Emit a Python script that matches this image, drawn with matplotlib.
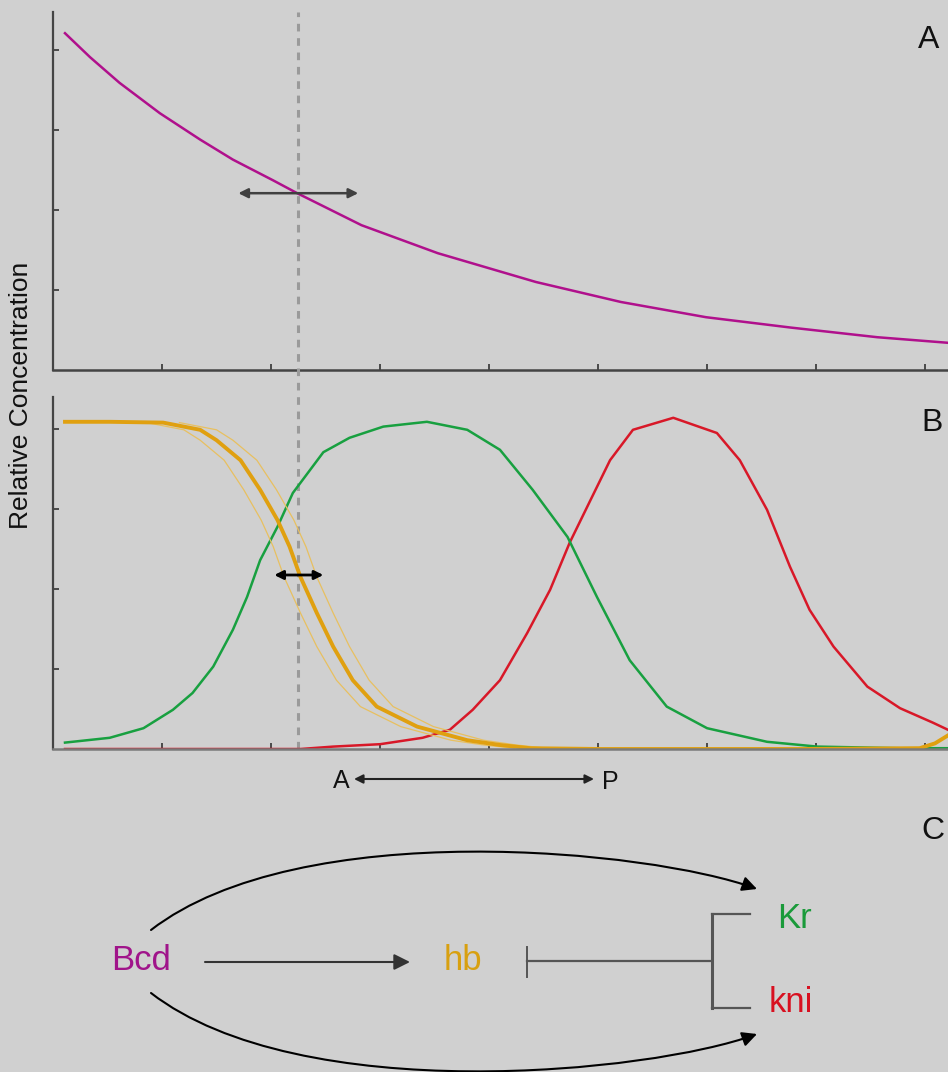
import matplotlib.pyplot as plt
from matplotlib.patches import FancyArrowPatch
from matplotlib.path import Path

plt.rcParams["font.family"] = ["Liberation Sans", "DejaVu Sans"]

BG = "#d0d0d0"
MAGENTA = "#b0108c"
ORANGE = "#e0a010"
ORANGE_THIN = "#e8c060"
GREEN = "#18a040"
RED = "#d81828"

# Panel A: Bcd gradient along the A-P axis
bcd_x = [0.11, 0.34, 0.61, 0.98, 1.35, 1.65, 2.02, 2.24, 2.83, 3.53, 4.43,
         5.21, 5.99, 6.77, 7.56, 8.21]
bcd_y = [4.21, 3.91, 3.59, 3.21, 2.88, 2.63, 2.37, 2.21, 1.81, 1.46, 1.10,
         0.85, 0.66, 0.53, 0.41, 0.34]

# Panel B: target gene profiles
hb_x = [0.11, 0.52, 1.01, 1.35, 1.50, 1.72, 1.90, 2.06, 2.17, 2.27, 2.42,
        2.57, 2.75, 2.97, 3.34, 3.80, 4.10, 4.38, 5.02, 5.94, 6.85, 7.95,
        8.09, 8.21]
hb_y = [4.09, 4.09, 4.08, 3.99, 3.86, 3.61, 3.24, 2.86, 2.53, 2.15, 1.70,
        1.28, 0.86, 0.53, 0.28, 0.11, 0.05, 0.01, 0.0, 0.0, 0.0, 0.01,
        0.07, 0.17]

# spread of the hb boundary (thin lines either side)
hb_band_y = [4.08, 3.99, 3.86, 3.61, 3.24, 2.86, 2.53, 2.15, 1.70, 1.28,
             0.86, 0.53, 0.28, 0.11, 0.05, 0.01]
hb_lo_x = [0.86, 1.20, 1.35, 1.57, 1.75, 1.91, 2.02, 2.12, 2.27, 2.42, 2.60,
           2.82, 3.19, 3.65, 3.95, 4.23]
hb_hi_x = [1.16, 1.50, 1.65, 1.87, 2.05, 2.21, 2.32, 2.42, 2.57, 2.72, 2.90,
           3.12, 3.49, 3.95, 4.25, 4.53]

kr_x = [0.11, 0.52, 0.83, 1.10, 1.28, 1.47, 1.65, 1.78, 1.90, 2.06, 2.20,
        2.48, 2.72, 3.03, 3.43, 3.80, 4.10, 4.40, 4.72, 4.99, 5.29, 5.63,
        6.00, 6.55, 7.01, 7.77, 8.21]
kr_y = [0.08, 0.14, 0.26, 0.49, 0.70, 1.03, 1.49, 1.90, 2.36, 2.78, 3.20,
        3.71, 3.89, 4.03, 4.09, 3.99, 3.74, 3.24, 2.65, 1.90, 1.11, 0.53,
        0.26, 0.09, 0.03, 0.01, 0.01]

kni_x = [0.11, 2.27, 2.57, 3.00, 3.39, 3.64, 3.85, 4.10, 4.35, 4.56, 4.74,
         4.93, 5.11, 5.32, 5.69, 6.09, 6.30, 6.55, 6.76, 6.94, 7.16, 7.47,
         7.77, 8.07, 8.21]
kni_y = [0.0, 0.0, 0.03, 0.06, 0.14, 0.24, 0.49, 0.86, 1.45, 1.99, 2.58,
         3.11, 3.61, 3.99, 4.14, 3.95, 3.61, 2.99, 2.28, 1.74, 1.28, 0.78,
         0.51, 0.33, 0.24]

x_ticks = [1, 2, 3, 4, 5, 6, 7, 8]
y_ticks = [1, 2, 3, 4]
threshold_x = 2.25

W, H = 948, 1072
fig = plt.figure(figsize=(W / 100, H / 100), dpi=100, facecolor=BG)


def px_axes(left, top, right, bottom):
    return fig.add_axes([left / W, 1 - bottom / H, (right - left) / W,
                         (bottom - top) / H])


def style_axes(ax, ymax, bottom_colour):
    ax.set_facecolor(BG)
    ax.set_xlim(0, 8.21)
    ax.set_ylim(0, ymax)
    ax.set_xticks(x_ticks)
    ax.set_yticks(y_ticks)
    for side in ["top", "right"]:
        ax.spines[side].set_visible(False)
    ax.spines["left"].set_color("#444444")
    ax.spines["left"].set_linewidth(1.6)
    ax.spines["bottom"].set_color(bottom_colour)
    ax.spines["bottom"].set_linewidth(1.8)
    ax.tick_params(direction="in", length=4, width=1.2, colors="#333333",
                   labelbottom=False, labelleft=False)


ax_a = px_axes(53, 12, 948, 370)
style_axes(ax_a, 4.475, "#444444")
ax_a.plot(bcd_x, bcd_y, color=MAGENTA, lw=1.8, solid_joinstyle="round")
ax_a.annotate("", xy=(1.70, 2.21), xytext=(2.80, 2.21),
              arrowprops=dict(arrowstyle="<|-|>", color="#404040", lw=1.8,
                              mutation_scale=14, shrinkA=0, shrinkB=0))

ax_b = px_axes(53, 397, 948, 749)
style_axes(ax_b, 4.4, "#7a7a7a")
ax_b.plot(kni_x, kni_y, color=RED, lw=1.8, solid_joinstyle="round")
ax_b.plot(kr_x, kr_y, color=GREEN, lw=1.8, solid_joinstyle="round")
ax_b.plot(hb_lo_x, hb_band_y, color=ORANGE_THIN, lw=0.9)
ax_b.plot(hb_hi_x, hb_band_y, color=ORANGE_THIN, lw=0.9)
ax_b.plot(hb_x, hb_y, color=ORANGE, lw=2.8, solid_joinstyle="round")
ax_b.annotate("", xy=(2.03, 2.175), xytext=(2.48, 2.175),
              arrowprops=dict(arrowstyle="<|-|>", color="black", lw=2,
                              mutation_scale=13, shrinkA=0, shrinkB=0))

# threshold position, carried up through panel A
ax_b.axvline(threshold_x, ymin=0, ymax=(749 - 12) / 352, color="#9a9a9a",
             lw=2.2, dashes=(2.5, 2.2), clip_on=False, zorder=0.5)

fig.text(21 / W, 1 - 395 / H, "Relative Concentration", rotation=90,
         ha="center", va="center", fontsize=19, color="#111111")

# overlay in pixel units for labels and the network diagram
ov = fig.add_axes([0, 0, 1, 1], zorder=5)
ov.set_xlim(0, W)
ov.set_ylim(H, 0)
ov.axis("off")
ov.patch.set_visible(False)

for label, (lx, ly) in {"A": (929, 40), "B": (932, 423), "C": (933, 831)}.items():
    ov.text(lx, ly, label, ha="center", va="center", fontsize=23,
            color="#111111")

ov.text(341, 781, "A", ha="center", va="center", fontsize=18, color="#111111")
ov.text(610, 782, "P", ha="center", va="center", fontsize=18, color="#111111")
ov.annotate("", xy=(354, 779), xytext=(594, 779),
            arrowprops=dict(arrowstyle="<|-|>", color="#222222", lw=1.5,
                            mutation_scale=13, shrinkA=0, shrinkB=0))

node_font = 25
ov.text(141, 961, "Bcd", ha="center", va="center", fontsize=node_font,
        color="#a0148a")
ov.text(463, 961, "hb", ha="center", va="center", fontsize=node_font,
        color="#d8a010")
ov.text(795, 918, "Kr", ha="center", va="center", fontsize=node_font,
        color="#1a9a3a")
ov.text(791, 1002, "kni", ha="center", va="center", fontsize=node_font,
        color="#d81020")

# Bcd activates hb
ov.add_patch(FancyArrowPatch((205, 962), (410, 962), arrowstyle="-|>",
                             mutation_scale=24, color="#333333", lw=1.5,
                             shrinkA=0, shrinkB=0))

# hb represses Kr and kni
grey = "#555555"
ov.plot([527, 527], [947, 977], color=grey, lw=1.4)
ov.plot([527, 712], [961, 961], color=grey, lw=1.6)
ov.plot([712, 712], [914, 1008], color=grey, lw=2.2)
ov.plot([712, 750], [914, 914], color=grey, lw=1.6)
ov.plot([712, 750], [1008, 1008], color=grey, lw=1.6)

# Bcd activates Kr and kni directly
for pts in ([(151, 930), (300, 815), (650, 850), (757, 889)],
            [(151, 993), (300, 1108), (650, 1073), (757, 1034)]):
    path = Path(pts, [Path.MOVETO, Path.CURVE4, Path.CURVE4, Path.CURVE4])
    ov.add_patch(FancyArrowPatch(path=path, arrowstyle="-|>",
                                 mutation_scale=22, color="black", lw=1.5))

fig.savefig("out.png", dpi=100, facecolor=BG)
